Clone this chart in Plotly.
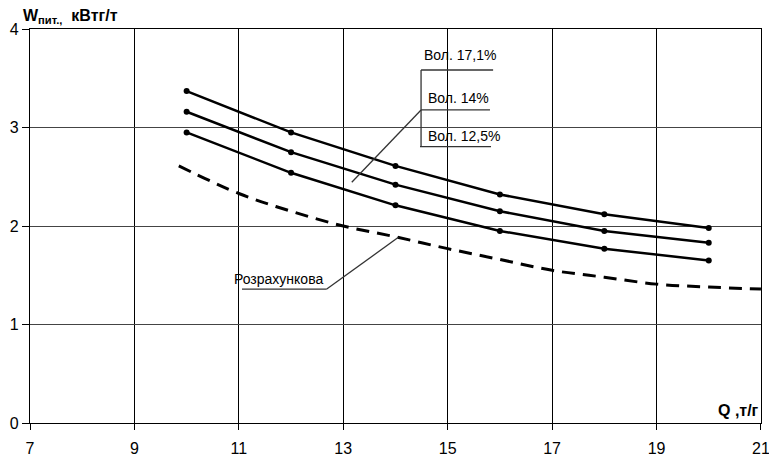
import plotly.graph_objects as go

# Data
q_points = [10, 12, 14, 16, 18, 20]
vol_171 = [3.37, 2.95, 2.61, 2.32, 2.12, 1.98]
vol_14 = [3.16, 2.75, 2.42, 2.15, 1.95, 1.83]
vol_125 = [2.95, 2.54, 2.21, 1.95, 1.77, 1.65]

q_calc = [9.85, 11, 12, 13, 14, 15, 16, 17, 18, 19, 20, 21]
w_calc = [2.61, 2.33, 2.15, 2.00, 1.89, 1.77, 1.66, 1.55, 1.48, 1.41, 1.38, 1.36]

x_ticks = [7, 9, 11, 13, 15, 17, 19, 21]
y_ticks = [0, 1, 2, 3, 4]

FONT = "Liberation Sans, Arial, sans-serif"

fig = go.Figure()

for ys in (vol_171, vol_14, vol_125):
    fig.add_trace(go.Scatter(
        x=q_points, y=ys, mode="lines+markers",
        line=dict(color="black", width=2.5),
        marker=dict(color="black", size=6),
        showlegend=False, hoverinfo="skip"))

fig.add_trace(go.Scatter(
    x=q_calc, y=w_calc, mode="lines", line_shape="spline",
    line=dict(color="black", width=3, dash="13px,8px"),
    showlegend=False, hoverinfo="skip"))

line_style = dict(color="#333333", width=1.3)
# leader / bracket lines for labels
shapes = [
    dict(type="line", x0=14.49, y0=3.584, x1=14.49, y1=2.805),
    dict(type="line", x0=14.49, y0=3.584, x1=15.87, y1=3.584),
    dict(type="line", x0=14.49, y0=3.178, x1=15.81, y1=3.178),
    dict(type="line", x0=14.47, y0=2.805, x1=15.83, y1=2.805),
    dict(type="line", x0=14.49, y0=3.178, x1=13.163, y1=2.444),
    dict(type="line", x0=11.06, y0=1.360, x1=12.684, y1=1.360),
    dict(type="line", x0=12.684, y0=1.360, x1=14.056, y1=1.885),
]
for s in shapes:
    s.update(xref="x", yref="y", line=line_style, layer="above")
fig.update_layout(shapes=shapes)

labels = [
    ("Вол. 17,1%", 14.53, 3.736),
    ("Вол. 14%", 14.61, 3.30),
    ("Вол. 12,5%", 14.61, 2.914),
    ("Розрахункова", 10.89, 1.462),
]
for txt, x, y in labels:
    fig.add_annotation(x=x, y=y, xref="x", yref="y", text=txt, showarrow=False,
                       xanchor="left", yanchor="middle", borderpad=0,
                       font=dict(family=FONT, size=14, color="black"))

fig.add_annotation(x=-8 / 731, y=1.0, xref="paper", yref="paper",
                   text="<b>W<sub>пит.,</sub>  кВтг/т</b>",
                   showarrow=False, xanchor="left", yanchor="bottom", yshift=2, borderpad=0,
                   font=dict(family=FONT, size=16, color="black"))

fig.add_annotation(x=0.998, y=0.0, xref="paper", yref="paper", text="<b>Q ,т/г</b>",
                   showarrow=False, xanchor="right", yanchor="bottom", yshift=3, borderpad=0,
                   font=dict(family=FONT, size=16, color="black"))

fig.update_layout(
    width=769, height=458,
    margin=dict(l=30, r=8, t=29, b=35),
    paper_bgcolor="white", plot_bgcolor="white",
    font=dict(family=FONT, size=16, color="black"),
    xaxis=dict(range=[7, 21.001], tickvals=x_ticks, ticktext=[str(v) for v in x_ticks],
               tickfont=dict(family=FONT, size=16, color="black"),
               showgrid=True, gridcolor="black", gridwidth=1,
               showline=True, linecolor="black", linewidth=1.2, mirror=True,
               ticks="outside", ticklen=6, tickcolor="black", ticklabelstandoff=5,
               zeroline=False, fixedrange=True, automargin=False,
               ticklabeloverflow="allow"),
    yaxis=dict(range=[0, 4], tickvals=y_ticks, ticktext=[str(v) for v in y_ticks],
               tickfont=dict(family=FONT, size=16, color="black"),
               showgrid=True, gridcolor="#444444", gridwidth=1,
               showline=True, linecolor="black", linewidth=1.2, mirror=True,
               ticks="outside", ticklen=7, tickcolor="black",
               zeroline=False, fixedrange=True, automargin=False,
               ticklabeloverflow="allow"),
)

fig.write_html("out.html", config={"displayModeBar": False},
               post_script="document.body.style.margin='0';document.body.style.overflow='hidden';")
